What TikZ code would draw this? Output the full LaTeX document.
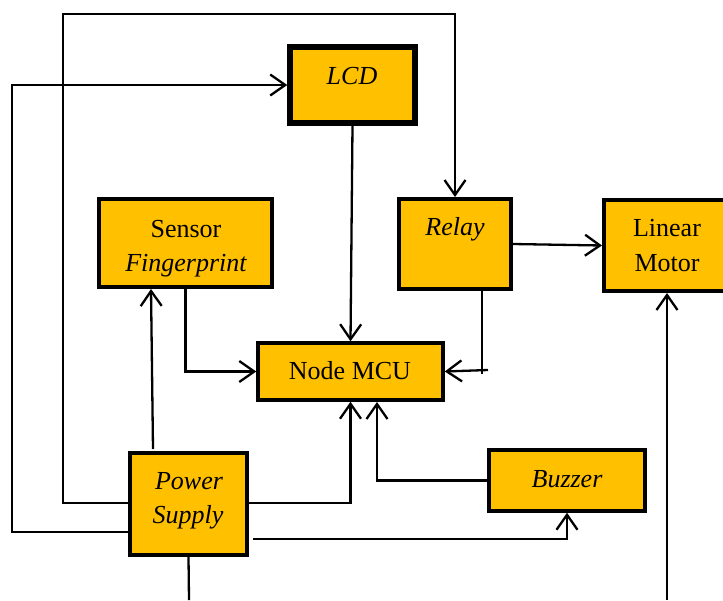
\documentclass[tikz,border=0pt]{standalone}
\usepackage{fontspec}
\setmainfont{Liberation Serif}
\usetikzlibrary{arrows.meta}
\definecolor{boxfill}{HTML}{FFC000}
\begin{document}
\begin{tikzpicture}[x=1pt,y=-1pt,
  box/.style={draw=black,fill=boxfill,line width=4pt,inner sep=0pt},
  lbl/.style={anchor=base,inner sep=0pt,font=\fontsize{26}{30}\selectfont},
  conn/.style={line width=2.3pt},
  arr/.style={line width=2.3pt,-{Straight Barb[length=15pt,width=21pt]}}]
\clip (0,0) rectangle (723,600);
% boxes
\node[box,line width=5.5pt,minimum width=125pt,minimum height=76pt] (lcd) at (352.5,85) {};
\node[box,minimum width=173pt,minimum height=88pt] (sensor) at (185.5,243) {};
\node[box,minimum width=112pt,minimum height=90pt] (relay) at (455,244) {};
\node[box,minimum width=126pt,minimum height=91pt] (motor) at (667,245.5) {};
\node[box,line width=3.5pt,minimum width=185pt,minimum height=57pt] (mcu) at (350.5,371.5) {};
\node[box,minimum width=117pt,minimum height=102pt] (power) at (188.5,504) {};
\node[box,line width=3.5pt,minimum width=156pt,minimum height=61pt] (buzzer) at (567,480.5) {};
% labels
\node[lbl] (lcdT) at (352,84) {\itshape LCD};
\node[lbl] (sensorT) at (186,237) {Sensor};
\node[lbl] (fingerT) at (186,271) {\itshape Fingerprint};
\node[lbl] (relayT) at (455,235) {\itshape Relay};
\node[lbl] (linearT) at (667,236) {Linear};
\node[lbl] (motorT) at (667,271) {Motor};
\node[lbl] (mcuT) at (350,379) {Node MCU};
\node[lbl] (powerT) at (189,489) {\itshape Power};
\node[lbl] (supplyT) at (188,523) {\itshape Supply};
\node[lbl] (buzzerT) at (567,487) {\itshape Buzzer};
% helper coordinates
\coordinate (pw1) at (128,503);
\coordinate (pw2) at (131,532);
\coordinate (pe1) at (249,503);
\coordinate (pe2) at (253,539);
\coordinate (ps) at (153,449);
\coordinate (st) at (151,289);
\coordinate (rb) at (482,289);
\coordinate (rc) at (482,374);
\coordinate (rd) at (488,370);
\coordinate (mb) at (377,402);
\coordinate (pb) at (189,600);
\coordinate (mbot) at (667,600);
% connectors
\draw[arr] (lcd.south) -- (mcu.north);
\draw[arr] (sensor.south) |- (mcu.west);
\draw[conn] (rb) -- (rc);
\draw[arr] (rd) -- (mcu.east);
\draw[arr] (relay.east) -- (motor.west);
\draw[arr] (ps) -- (st);
\draw[arr] (pw1) -- (63,503) -- (63,14) -| (relay.north);
\draw[arr] (pw2) -- (12,532) |- (lcd.west);
\draw[arr] (pe1) -| (mcu.south);
\draw[arr] (pe2) -| (buzzer.south);
\draw[arr] (buzzer.west) -| (mb);
\draw[conn] (power.south) -- (pb);
\draw[arr] (mbot) -- (motor.south);
\end{tikzpicture}
\end{document}
